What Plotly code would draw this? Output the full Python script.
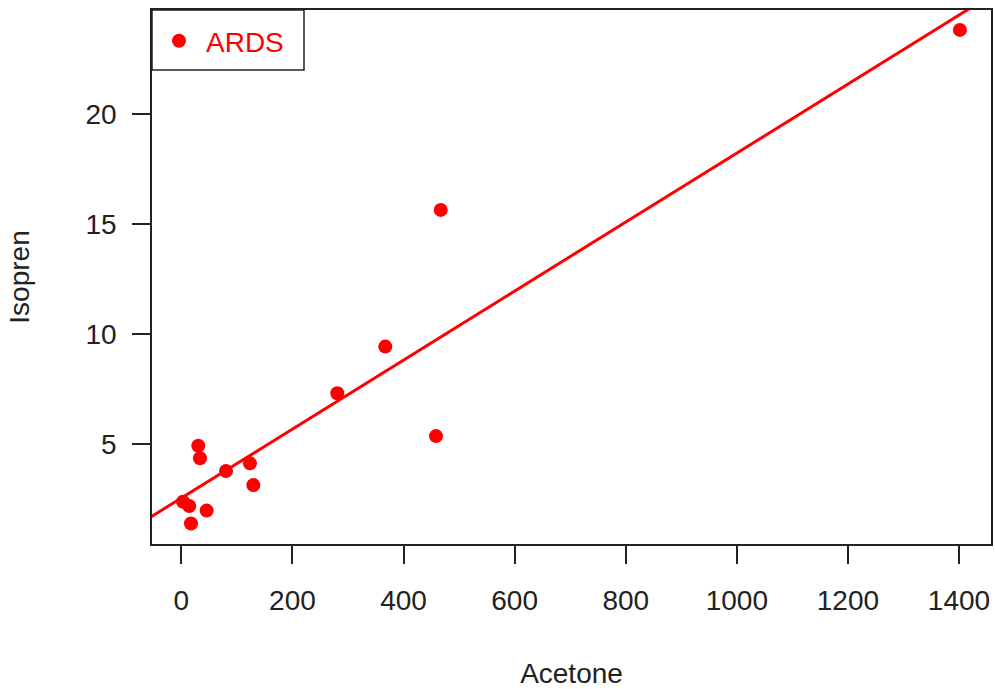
import numpy as np
import plotly.graph_objects as go

# Data
acetone = [3.0, 14.2, 17.3, 30.4, 33.5, 45.5, 80.3, 123.5, 129.5, 280.7, 367.1, 458.4, 466.9, 1401.6]
isopren = [2.37, 2.18, 1.38, 4.92, 4.35, 1.97, 3.77, 4.12, 3.13, 7.31, 9.43, 5.36, 15.65, 23.84]
x_ticks = [0, 200, 400, 600, 800, 1000, 1200, 1400]
y_ticks = [5, 10, 15, 20]
series_name = "ARDS"

# linear fit (like R's abline(lm(...)))
slope, intercept = np.polyfit(acetone, isopren, 1)

xr = [-52.9, 1457.6]
yr = [0.45, 24.745]
line_x = np.array([xr[0] - 100, xr[1] + 100])
line_y = intercept + slope * line_x

font_family = "Liberation Sans, Arial, sans-serif"
txt = "#222222"

fig = go.Figure()
fig.add_trace(go.Scatter(x=line_x, y=line_y, mode="lines",
                         line=dict(color="#ff0000", width=3),
                         showlegend=False, hoverinfo="skip", cliponaxis=True))
fig.add_trace(go.Scatter(x=acetone, y=isopren, mode="markers", name=series_name,
                         marker=dict(color="#ff0000", size=14)))

axis_common = dict(showgrid=False, zeroline=False, showline=True, mirror=True,
                   linecolor="#222222", linewidth=1.5, ticks="outside", ticklen=18,
                   tickwidth=1.5, tickcolor="#222222", automargin=False,
                   tickfont=dict(family=font_family, size=28, color=txt))

fig.update_xaxes(range=xr, tickvals=x_ticks, ticktext=[str(v) for v in x_ticks],
                 ticklabelstandoff=13,
                 title=dict(text="Acetone", font=dict(family=font_family, size=28, color=txt),
                            standoff=52),
                 **axis_common)
fig.update_yaxes(range=yr, tickvals=y_ticks, ticktext=[str(v) for v in y_ticks],
                 ticklabelstandoff=10,
                 title=dict(text="Isopren", font=dict(family=font_family, size=28, color=txt),
                            standoff=48),
                 **axis_common)

fig.update_layout(
    width=995, height=689,
    margin=dict(l=152, r=4, t=10, b=145, autoexpand=False),
    plot_bgcolor="white", paper_bgcolor="white",
    font=dict(family=font_family, size=28, color=txt),
    showlegend=True,
    legend=dict(x=0, xanchor="left", y=(544 - 41) / 534, yanchor="middle",
                bgcolor="rgba(0,0,0,0)", borderwidth=0, itemwidth=44,
                font=dict(family=font_family, size=28, color="#ff0000")),
    shapes=[dict(type="rect", xref="paper", yref="paper",
                 xsizemode="pixel", ysizemode="pixel",
                 xanchor=0, yanchor=1, x0=0, x1=152, y0=0, y1=-60,
                 line=dict(color="#222222", width=1.5), fillcolor="rgba(0,0,0,0)")],
)

fig.write_html("out.html", config={"displayModeBar": False},
               post_script="document.body.style.margin='0';document.body.style.overflow='hidden';")
